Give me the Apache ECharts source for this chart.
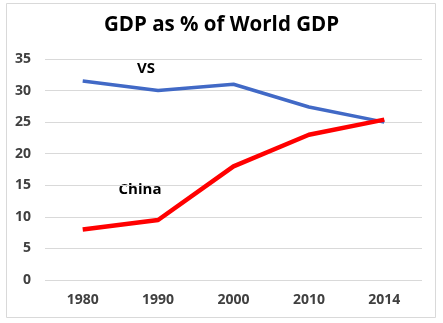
<!DOCTYPE html>
<html>
<head>
<meta charset="utf-8">
<script src="https://cdn.jsdelivr.net/npm/echarts@6/dist/echarts.min.js"></script>
<style>
html,body{margin:0;padding:0;background:#fff;}
#chart{width:443px;height:323px;}
</style>
</head>
<body>
<div id="chart"></div>
<script>
const categories = ['1980', '1990', '2000', '2010', '2014'];
const usValues = [31.5, 30.0, 31.0, 27.4, 25.0];
const chinaValues = [8.0, 9.5, 18.0, 23.0, 25.4];
const yTicks = { min: 0, max: 35, interval: 5 };

const FONT = '"Open Sans", Lato, sans-serif';
const chart = echarts.init(document.getElementById('chart'), null, { renderer: 'canvas' });
chart.setOption({
  animation: false,
  backgroundColor: '#fff',
  title: {
    text: 'GDP as % of World GDP',
    left: 'center',
    top: 10,
    textStyle: { fontFamily: FONT, fontSize: 20.5, fontWeight: 'bold', color: '#000' }
  },
  grid: { left: 45, right: 21, top: 59, bottom: 43 },
  xAxis: {
    type: 'category',
    data: categories,
    boundaryGap: true,
    axisLine: { show: false },
    axisTick: { show: false },
    axisLabel: { margin: 13, fontFamily: FONT, fontSize: 14, fontWeight: 'bold', color: '#404040' }
  },
  yAxis: {
    type: 'value',
    min: yTicks.min,
    max: yTicks.max,
    interval: yTicks.interval,
    axisLine: { show: false },
    axisTick: { show: false },
    axisLabel: { margin: 14, fontFamily: FONT, fontSize: 14, fontWeight: 'bold', color: '#404040' },
    splitLine: { lineStyle: { color: '#d9d9d9', width: 1 } }
  },
  series: [
    {
      name: 'VS',
      type: 'line',
      data: usValues,
      symbol: 'none',
      lineStyle: { color: '#4169c6', width: 3.5 }
    },
    {
      name: 'China',
      type: 'line',
      data: chinaValues,
      symbol: 'none',
      lineStyle: { color: '#ff0000', width: 4.5 }
    }
  ],
  graphic: [
    {
      type: 'rect',
      shape: { x: 6.5, y: 3.5, width: 429, height: 314 },
      style: { fill: 'none', stroke: '#d9d9d9', lineWidth: 1 },
      silent: true
    },
    {
      type: 'text',
      x: 146, y: 69,
      style: { text: 'VS', fontFamily: FONT, fontSize: 15, fontWeight: 'bold', fill: '#000', align: 'center', verticalAlign: 'middle' }
    },
    {
      type: 'text',
      x: 140, y: 190,
      style: { text: 'China', fontFamily: FONT, fontSize: 15, fontWeight: 'bold', fill: '#000', align: 'center', verticalAlign: 'middle' }
    }
  ]
});
</script>
</body>
</html>
